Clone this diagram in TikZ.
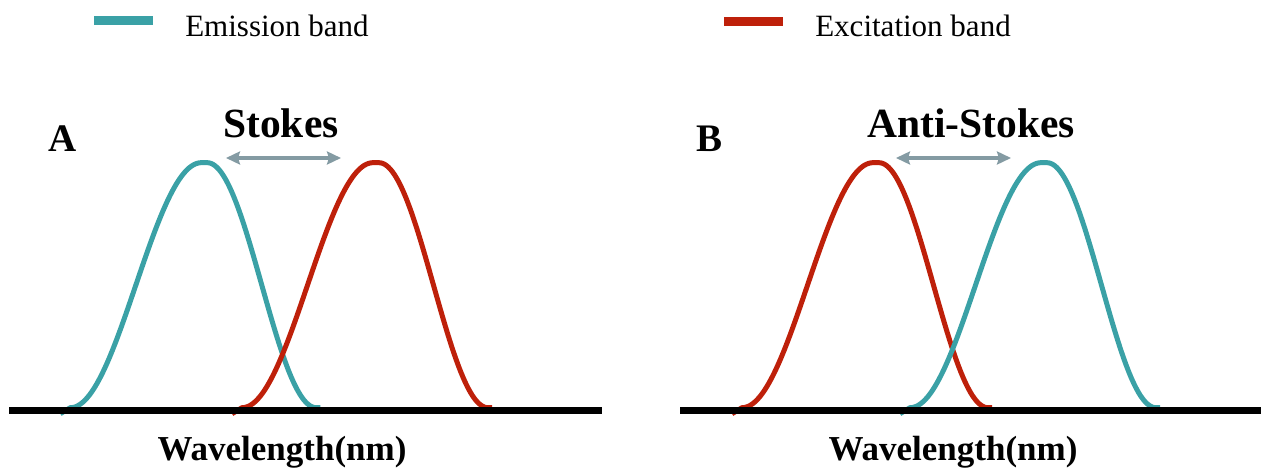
\documentclass[tikz,border=0pt]{standalone}
\usepackage{fontspec}
\setmainfont{Liberation Serif}
\usetikzlibrary{arrows.meta}
\definecolor{emis}{RGB}{58,161,166}
\definecolor{exci}{RGB}{190,32,10}
\definecolor{shiftc}{RGB}{132,155,163}
\newcommand\bandpath{(-143,251) -- plot[domain=-133:-1,samples=70] (\x,{122.5*(1-cos(1.374046*(\x+2)))}) -- plot[domain=4:113,samples=70] (\x,{122.5*(1-cos(1.651376*(\x-4)))}) -- (117,245)}
\tikzset{
  bandline/.style={line width=5pt, line join=round},
  axisline/.style={line width=7pt, black},
  legbar/.style={line width=9pt},
  shiftarrow/.style={line width=4.5pt, shiftc, {Stealth[length=14pt,width=13pt,inset=2pt]}-{Stealth[length=14pt,width=13pt,inset=2pt]}},
  legtext/.style={anchor=base, inner sep=0pt, font=\fontsize{31}{36}\selectfont},
  paneltext/.style={anchor=base, inner sep=0pt, font=\fontsize{39}{44}\bfseries\selectfont},
  shifttext/.style={anchor=base, inner sep=0pt, font=\fontsize{41.5}{46}\bfseries\selectfont},
  axistext/.style={anchor=base, inner sep=0pt, font=\fontsize{35}{40}\bfseries\selectfont},
}
\begin{document}
\begin{tikzpicture}[x=1pt,y=-1pt]
\useasboundingbox (0,0) rectangle (1261,468);
% legend
\coordinate (le1) at (94,20.5); \coordinate (le2) at (153,20.5);
\coordinate (lx1) at (724,21.5); \coordinate (lx2) at (783,21.5);
\draw[legbar, emis] (le1) -- (le2);
\draw[legbar, exci] (lx1) -- (lx2);
\node[legtext] (lemis) at (277,36.7) {Emission band};
\node[legtext] (lexci) at (913,36.7) {Excitation band};
% panel labels
\node[paneltext] (pa) at (63,152) {A};
\node[paneltext] (pb) at (709,152) {B};
\node[shifttext] (st) at (281,138) {Stokes};
\node[shifttext] (ast) at (971,138) {Anti-Stokes};
% curves A
\draw[bandline, emis, shift={(203.3,162.7)}] \bandpath;
\draw[bandline, exci, shift={(375,162.7)}] \bandpath;
% curves B
\draw[bandline, exci, shift={(875,162.7)}] \bandpath;
\draw[bandline, emis, shift={(1043,162.7)}] \bandpath;
% axes
\coordinate (a1) at (9,410.5); \coordinate (a2) at (602,410.5);
\coordinate (b1) at (680,410.5); \coordinate (b2) at (1261,410.5);
\draw[axisline] (a1) -- (a2);
\draw[axisline] (b1) -- (b2);
% shift arrows
\coordinate (sa1) at (226,158); \coordinate (sa2) at (341,158);
\coordinate (sb1) at (896,158); \coordinate (sb2) at (1011,158);
\draw[shiftarrow] (sa1) -- (sa2);
\draw[shiftarrow] (sb1) -- (sb2);
% axis labels
\node[axistext] (wa) at (282,460) {Wavelength(nm)};
\node[axistext] (wb) at (953,460) {Wavelength(nm)};
\end{tikzpicture}
\end{document}
